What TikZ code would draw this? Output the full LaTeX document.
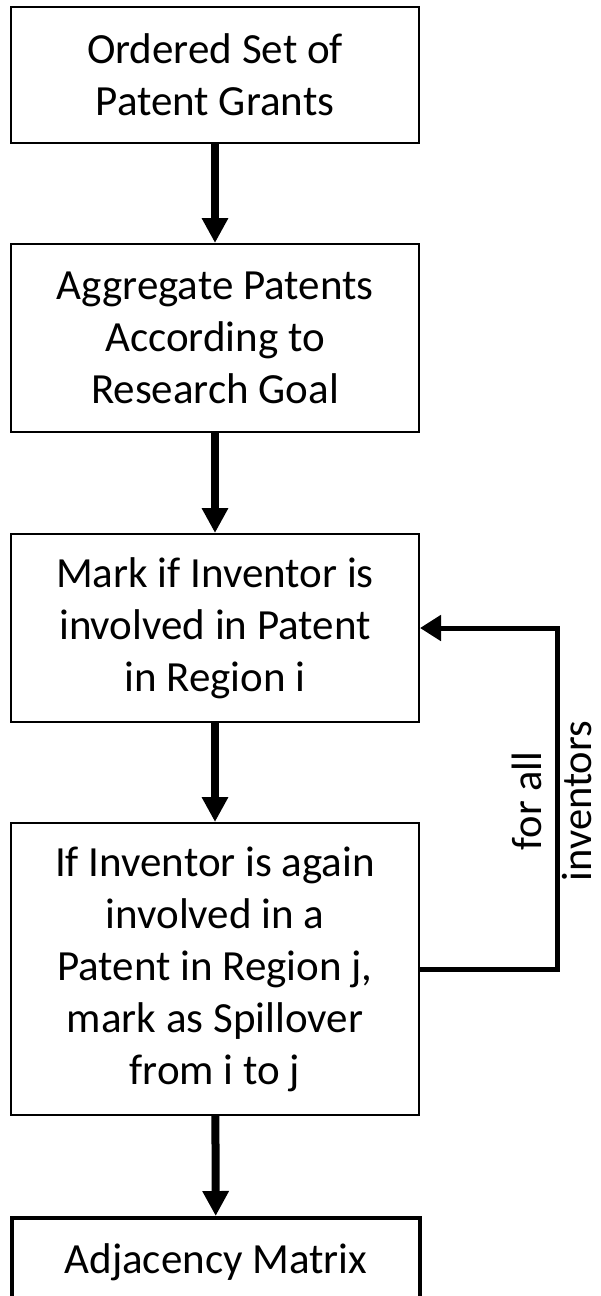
\documentclass[tikz,border=0pt]{standalone}
\usepackage{fontspec}
\setmainfont{Carlito}
\usetikzlibrary{arrows.meta}
\begin{document}
\begin{tikzpicture}[x=1pt,y=-1pt,
  box/.style={draw, line width=2pt, minimum width=408pt, align=center, inner sep=0pt,
    font=\fontsize{43}{52}\selectfont},
  endbox/.style={draw, line width=4pt, minimum width=408pt, align=center, inner xsep=0pt, inner ysep=0pt,
    text height=55pt, text depth=150pt, font=\fontsize{43}{52}\selectfont},
  flow/.style={line width=8pt, -{Triangle[width=25pt,length=25pt]}},
  back/.style={line width=5pt, -{Triangle[width=25pt,length=21pt]}},
  lbl/.style={rotate=90, align=center, inner sep=0pt, font=\fontsize{42.5}{50}\selectfont}]
\useasboundingbox (0,0) rectangle (600,1296);
\clip (0,0) rectangle (600,1296);
\node[box, minimum height=136pt] (b1) at (215,75) {Ordered Set of\\Patent Grants};
\node[box, minimum height=188pt] (b2) at (215,338) {Aggregate Patents\\According to\\Research Goal};
\node[box, minimum height=188pt] (b3) at (215,628) {Mark if Inventor is\\involved in Patent\\in Region i};
\node[box, minimum height=292pt] (b4) at (215,969) {If Inventor is again\\involved in a\\Patent in Region j,\\mark as Spillover\\from i to j};
\node[endbox, anchor=north] (b5) at (216,1216) {Adjacency Matrix};
\coordinate (c) at (557,628);
\draw[flow] (b1) -- (b2);
\draw[flow] (b2) -- (b3);
\draw[flow] (b3) -- (b4);
\draw[flow] (b4) -- (b5);
\draw[back] (b4.east) -| (c) -- (b3.east);
\node[lbl] (t) at (552,801) {for all\\inventors};
\end{tikzpicture}
\end{document}
